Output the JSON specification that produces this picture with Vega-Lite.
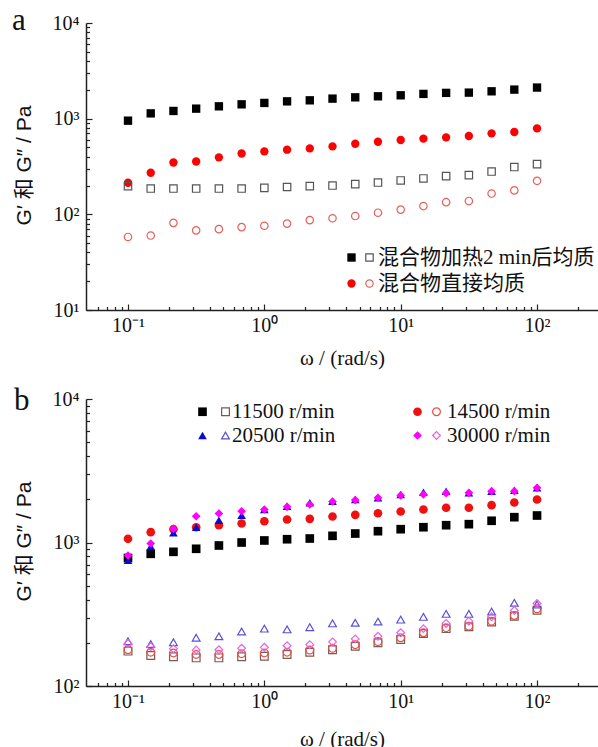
{
  "$schema": "https://vega.github.io/schema/vega-lite/v6.json",
  "padding": {"left": 12, "top": 5, "right": 0, "bottom": 0},
  "background": "white",
  "config": {
    "view": {"stroke": null},
    "axis": {"domainColor": "#222", "domainWidth": 1.5, "tickColor": "#222", "tickWidth": 1.2, "labelFont": "Liberation Serif", "labelFontSize": 20, "labelColor": "#111", "grid": false, "labelOverlap": false, "labelFlush": false, "labelBound": false, "titleColor": "#111", "titleFontWeight": "normal"},
    "legend": {"padding": 0, "title": null, "labelLimit": 400}
  },
  "spacing": 17,
  "resolve": {
    "scale": {"x": "independent", "y": "independent", "fill": "independent", "stroke": "independent", "shape": "independent"},
    "axis": {"x": "independent", "y": "independent"},
    "legend": {"fill": "independent", "stroke": "independent", "shape": "independent"}
  },
  "datasets": {
    "a": [
      {"s":"A","k":1,"w":0.1,"v":953},{"s":"A","k":1,"w":0.1468,"v":1136},{"s":"A","k":1,"w":0.2154,"v":1204},{"s":"A","k":1,"w":0.3162,"v":1273},{"s":"A","k":1,"w":0.4642,"v":1346},{"s":"A","k":1,"w":0.6813,"v":1412},{"s":"A","k":1,"w":1,"v":1460},{"s":"A","k":1,"w":1.468,"v":1517},{"s":"A","k":1,"w":2.154,"v":1555},{"s":"A","k":1,"w":3.162,"v":1620},{"s":"A","k":1,"w":4.642,"v":1671},{"s":"A","k":1,"w":6.813,"v":1713},{"s":"A","k":1,"w":10,"v":1755},{"s":"A","k":1,"w":14.68,"v":1815},{"s":"A","k":1,"w":21.54,"v":1860},{"s":"A","k":1,"w":31.62,"v":1872},{"s":"A","k":1,"w":46.42,"v":1932},{"s":"A","k":1,"w":68.13,"v":2013},{"s":"A","k":1,"w":100,"v":2114},
      {"s":"B","k":1,"w":0.1,"v":214},{"s":"B","k":1,"w":0.1468,"v":272},{"s":"B","k":1,"w":0.2154,"v":348},{"s":"B","k":1,"w":0.3162,"v":357},{"s":"B","k":1,"w":0.4642,"v":394},{"s":"B","k":1,"w":0.6813,"v":433},{"s":"B","k":1,"w":1,"v":455},{"s":"B","k":1,"w":1.468,"v":474},{"s":"B","k":1,"w":2.154,"v":489},{"s":"B","k":1,"w":3.162,"v":513},{"s":"B","k":1,"w":4.642,"v":547},{"s":"B","k":1,"w":6.813,"v":574},{"s":"B","k":1,"w":10,"v":598},{"s":"B","k":1,"w":14.68,"v":618},{"s":"B","k":1,"w":21.54,"v":637},{"s":"B","k":1,"w":31.62,"v":659},{"s":"B","k":1,"w":46.42,"v":702},{"s":"B","k":1,"w":68.13,"v":726},{"s":"B","k":1,"w":100,"v":791},
      {"s":"A","k":2,"w":0.1,"v":197},{"s":"A","k":2,"w":0.1468,"v":186},{"s":"A","k":2,"w":0.2154,"v":186},{"s":"A","k":2,"w":0.3162,"v":186},{"s":"A","k":2,"w":0.4642,"v":186},{"s":"A","k":2,"w":0.6813,"v":186},{"s":"A","k":2,"w":1,"v":189},{"s":"A","k":2,"w":1.468,"v":193},{"s":"A","k":2,"w":2.154,"v":197},{"s":"A","k":2,"w":3.162,"v":200},{"s":"A","k":2,"w":4.642,"v":207},{"s":"A","k":2,"w":6.813,"v":215},{"s":"A","k":2,"w":10,"v":226},{"s":"A","k":2,"w":14.68,"v":237},{"s":"A","k":2,"w":21.54,"v":251},{"s":"A","k":2,"w":31.62,"v":257},{"s":"A","k":2,"w":46.42,"v":280},{"s":"A","k":2,"w":68.13,"v":312},{"s":"A","k":2,"w":100,"v":335},
      {"s":"B","k":2,"w":0.1,"v":58},{"s":"B","k":2,"w":0.1468,"v":60},{"s":"B","k":2,"w":0.2154,"v":81.5},{"s":"B","k":2,"w":0.3162,"v":68},{"s":"B","k":2,"w":0.4642,"v":70},{"s":"B","k":2,"w":0.6813,"v":73.5},{"s":"B","k":2,"w":1,"v":76},{"s":"B","k":2,"w":1.468,"v":80},{"s":"B","k":2,"w":2.154,"v":87},{"s":"B","k":2,"w":3.162,"v":91},{"s":"B","k":2,"w":4.642,"v":96},{"s":"B","k":2,"w":6.813,"v":104},{"s":"B","k":2,"w":10,"v":112},{"s":"B","k":2,"w":14.68,"v":122},{"s":"B","k":2,"w":21.54,"v":134},{"s":"B","k":2,"w":31.62,"v":138},{"s":"B","k":2,"w":46.42,"v":165},{"s":"B","k":2,"w":68.13,"v":178},{"s":"B","k":2,"w":100,"v":224}
    ],
    "b": [
      {"s":"11500","k":1,"w":0.1,"v":780},{"s":"11500","k":1,"w":0.1468,"v":834},{"s":"11500","k":1,"w":0.2154,"v":861},{"s":"11500","k":1,"w":0.3162,"v":904},{"s":"11500","k":1,"w":0.4642,"v":953},{"s":"11500","k":1,"w":0.6813,"v":1000},{"s":"11500","k":1,"w":1,"v":1033},{"s":"11500","k":1,"w":1.468,"v":1054},{"s":"11500","k":1,"w":2.154,"v":1066},{"s":"11500","k":1,"w":3.162,"v":1113},{"s":"11500","k":1,"w":4.642,"v":1155},{"s":"11500","k":1,"w":6.813,"v":1199},{"s":"11500","k":1,"w":10,"v":1238},{"s":"11500","k":1,"w":14.68,"v":1278},{"s":"11500","k":1,"w":21.54,"v":1320},{"s":"11500","k":1,"w":31.62,"v":1342},{"s":"11500","k":1,"w":46.42,"v":1417},{"s":"11500","k":1,"w":68.13,"v":1501},{"s":"11500","k":1,"w":100,"v":1542},
      {"s":"14500","k":1,"w":0.1,"v":1061},{"s":"14500","k":1,"w":0.1468,"v":1180},{"s":"14500","k":1,"w":0.2154,"v":1238},{"s":"14500","k":1,"w":0.3162,"v":1278},{"s":"14500","k":1,"w":0.4642,"v":1320},{"s":"14500","k":1,"w":0.6813,"v":1356},{"s":"14500","k":1,"w":1,"v":1407},{"s":"14500","k":1,"w":1.468,"v":1446},{"s":"14500","k":1,"w":2.154,"v":1462},{"s":"14500","k":1,"w":3.162,"v":1517},{"s":"14500","k":1,"w":4.642,"v":1559},{"s":"14500","k":1,"w":6.813,"v":1600},{"s":"14500","k":1,"w":10,"v":1644},{"s":"14500","k":1,"w":14.68,"v":1698},{"s":"14500","k":1,"w":21.54,"v":1746},{"s":"14500","k":1,"w":31.62,"v":1746},{"s":"14500","k":1,"w":46.42,"v":1820},{"s":"14500","k":1,"w":68.13,"v":1900},{"s":"14500","k":1,"w":100,"v":1995},
      {"s":"20500","k":1,"w":0.1,"v":753},{"s":"20500","k":1,"w":0.1468,"v":938},{"s":"20500","k":1,"w":0.2154,"v":1168},{"s":"20500","k":1,"w":0.3162,"v":1278},{"s":"20500","k":1,"w":0.4642,"v":1430},{"s":"20500","k":1,"w":0.6813,"v":1550},{"s":"20500","k":1,"w":1,"v":1698},{"s":"20500","k":1,"w":1.468,"v":1791},{"s":"20500","k":1,"w":2.154,"v":1891},{"s":"20500","k":1,"w":3.162,"v":1941},{"s":"20500","k":1,"w":4.642,"v":1994},{"s":"20500","k":1,"w":6.813,"v":2049},{"s":"20500","k":1,"w":10,"v":2160},{"s":"20500","k":1,"w":14.68,"v":2241},{"s":"20500","k":1,"w":21.54,"v":2278},{"s":"20500","k":1,"w":31.62,"v":2218},{"s":"20500","k":1,"w":46.42,"v":2278},{"s":"20500","k":1,"w":68.13,"v":2312},{"s":"20500","k":1,"w":100,"v":2404},
      {"s":"30000","k":1,"w":0.1,"v":812},{"s":"30000","k":1,"w":0.1468,"v":984},{"s":"30000","k":1,"w":0.2154,"v":1246},{"s":"30000","k":1,"w":0.3162,"v":1524},{"s":"30000","k":1,"w":0.4642,"v":1592},{"s":"30000","k":1,"w":0.6813,"v":1652},{"s":"30000","k":1,"w":1,"v":1698},{"s":"30000","k":1,"w":1.468,"v":1773},{"s":"30000","k":1,"w":2.154,"v":1841},{"s":"30000","k":1,"w":3.162,"v":1931},{"s":"30000","k":1,"w":4.642,"v":1974},{"s":"30000","k":1,"w":6.813,"v":2049},{"s":"30000","k":1,"w":10,"v":2128},{"s":"30000","k":1,"w":14.68,"v":2160},{"s":"30000","k":1,"w":21.54,"v":2207},{"s":"30000","k":1,"w":31.62,"v":2218},{"s":"30000","k":1,"w":46.42,"v":2278},{"s":"30000","k":1,"w":68.13,"v":2278},{"s":"30000","k":1,"w":100,"v":2404},
      {"s":"11500","k":2,"w":0.1,"v":175},{"s":"11500","k":2,"w":0.1468,"v":163},{"s":"11500","k":2,"w":0.2154,"v":160},{"s":"11500","k":2,"w":0.3162,"v":157},{"s":"11500","k":2,"w":0.4642,"v":157},{"s":"11500","k":2,"w":0.6813,"v":160},{"s":"11500","k":2,"w":1,"v":161},{"s":"11500","k":2,"w":1.468,"v":166},{"s":"11500","k":2,"w":2.154,"v":172},{"s":"11500","k":2,"w":3.162,"v":179},{"s":"11500","k":2,"w":4.642,"v":189},{"s":"11500","k":2,"w":6.813,"v":200},{"s":"11500","k":2,"w":10,"v":211},{"s":"11500","k":2,"w":14.68,"v":232},{"s":"11500","k":2,"w":21.54,"v":251},{"s":"11500","k":2,"w":31.62,"v":259},{"s":"11500","k":2,"w":46.42,"v":279},{"s":"11500","k":2,"w":68.13,"v":306},{"s":"11500","k":2,"w":100,"v":337},
      {"s":"14500","k":2,"w":0.1,"v":179},{"s":"14500","k":2,"w":0.1468,"v":172},{"s":"14500","k":2,"w":0.2154,"v":170},{"s":"14500","k":2,"w":0.3162,"v":166},{"s":"14500","k":2,"w":0.4642,"v":166},{"s":"14500","k":2,"w":0.6813,"v":168},{"s":"14500","k":2,"w":1,"v":170},{"s":"14500","k":2,"w":1.468,"v":172},{"s":"14500","k":2,"w":2.154,"v":178},{"s":"14500","k":2,"w":3.162,"v":183},{"s":"14500","k":2,"w":4.642,"v":194},{"s":"14500","k":2,"w":6.813,"v":204},{"s":"14500","k":2,"w":10,"v":217},{"s":"14500","k":2,"w":14.68,"v":235},{"s":"14500","k":2,"w":21.54,"v":255},{"s":"14500","k":2,"w":31.62,"v":261},{"s":"14500","k":2,"w":46.42,"v":283},{"s":"14500","k":2,"w":68.13,"v":310},{"s":"14500","k":2,"w":100,"v":345},
      {"s":"20500","k":2,"w":0.1,"v":205},{"s":"20500","k":2,"w":0.1468,"v":196},{"s":"20500","k":2,"w":0.2154,"v":202},{"s":"20500","k":2,"w":0.3162,"v":217},{"s":"20500","k":2,"w":0.4642,"v":222},{"s":"20500","k":2,"w":0.6813,"v":240},{"s":"20500","k":2,"w":1,"v":251},{"s":"20500","k":2,"w":1.468,"v":248},{"s":"20500","k":2,"w":2.154,"v":257},{"s":"20500","k":2,"w":3.162,"v":273},{"s":"20500","k":2,"w":4.642,"v":276},{"s":"20500","k":2,"w":6.813,"v":281},{"s":"20500","k":2,"w":10,"v":290},{"s":"20500","k":2,"w":14.68,"v":303},{"s":"20500","k":2,"w":21.54,"v":318},{"s":"20500","k":2,"w":31.62,"v":318},{"s":"20500","k":2,"w":46.42,"v":330},{"s":"20500","k":2,"w":68.13,"v":380},{"s":"20500","k":2,"w":100,"v":370},
      {"s":"30000","k":2,"w":0.1,"v":198},{"s":"30000","k":2,"w":0.1468,"v":188},{"s":"30000","k":2,"w":0.2154,"v":182},{"s":"30000","k":2,"w":0.3162,"v":178},{"s":"30000","k":2,"w":0.4642,"v":179},{"s":"30000","k":2,"w":0.6813,"v":183},{"s":"30000","k":2,"w":1,"v":186},{"s":"30000","k":2,"w":1.468,"v":191},{"s":"30000","k":2,"w":2.154,"v":194},{"s":"30000","k":2,"w":3.162,"v":203},{"s":"30000","k":2,"w":4.642,"v":213},{"s":"30000","k":2,"w":6.813,"v":222},{"s":"30000","k":2,"w":10,"v":235},{"s":"30000","k":2,"w":14.68,"v":251},{"s":"30000","k":2,"w":21.54,"v":273},{"s":"30000","k":2,"w":31.62,"v":283},{"s":"30000","k":2,"w":46.42,"v":304},{"s":"30000","k":2,"w":68.13,"v":336},{"s":"30000","k":2,"w":100,"v":376}
    ]
  },
  "vconcat": [
    {
      "width": 512, "height": 287,
      "title": {"text": "a", "anchor": "start", "frame": "group", "font": "Liberation Serif", "fontSize": 31, "fontWeight": "normal", "baseline": "alphabetic", "offset": -48, "dx": -74, "color": "#111"},
      "data": {"name": "a"},
      "resolve": {"scale": {"shape": "independent"}, "legend": {"fill": "independent", "stroke": "independent", "shape": "independent"}},
      "encoding": {
        "x": {"field": "w", "type": "quantitative", "scale": {"type": "log", "domain": [0.0492, 280], "nice": false},
          "axis": {"values": [0.06,0.07,0.08,0.09,0.1,0.2,0.3,0.4,0.5,0.6,0.7,0.8,0.9,1,2,3,4,5,6,7,8,9,10,20,30,40,50,60,70,80,90,100,200],
            "labelExpr": "datum.value === 0.1 ? '10⁻¹' : datum.value === 1 ? '10⁰' : datum.value === 10 ? '10¹' : datum.value === 100 ? '10²' : ''",
            "tickSize": {"condition": {"test": "indexof([0.1,1,10,100], datum.value) >= 0", "value": -6}, "value": -3.5},
            "labelPadding": 11,
            "title": "ω / (rad/s)", "titleFont": "Liberation Serif", "titleFontSize": 21, "titleY": 48, "titleBaseline": "middle"}},
        "y": {"field": "v", "type": "quantitative", "scale": {"type": "log", "domain": [10, 10000], "nice": false},
          "axis": {"values": [10,20,30,40,50,60,70,80,90,100,200,300,400,500,600,700,800,900,1000,2000,3000,4000,5000,6000,7000,8000,9000,10000],
            "labelExpr": "datum.value === 10 ? '10¹' : datum.value === 100 ? '10²' : datum.value === 1000 ? '10³' : datum.value === 10000 ? '10⁴' : ''",
            "tickSize": {"condition": {"test": "indexof([10,100,1000,10000], datum.value) >= 0", "value": -6}, "value": -3.5},
            "labelPadding": 13,
            "title": "G′ 和 G″ / Pa", "titleFont": "Liberation Sans, Noto Sans CJK SC", "titleFontSize": 21, "titleX": -62, "titleY": 142, "titleBaseline": "middle"}}
      },
      "layer": [
        {
          "transform": [{"filter": "datum.k === 1"}],
          "mark": {"type": "point", "filled": true, "strokeWidth": 0, "opacity": 1, "size": 70},
          "encoding": {
            "shape": {"field": "s", "type": "nominal", "scale": {"domain": ["A", "B"], "range": ["square", "circle"]},
              "legend": {"orient": "none", "legendX": 255, "legendY": 224, "symbolSize": 70, "symbolStrokeWidth": 0, "labelOffset": 16, "rowPadding": 4, "labelFont": "Liberation Serif, Noto Sans CJK SC", "labelFontSize": 21, "labelColor": "#111", "labelExpr": "datum.value === 'A' ? '混合物加热2 min后均质' : '混合物直接均质'"}},
            "fill": {"field": "s", "type": "nominal", "scale": {"domain": ["A", "B"], "range": ["#000000", "#ff0000"]},
              "legend": {"orient": "none", "legendX": 255, "legendY": 224, "symbolSize": 70, "symbolStrokeWidth": 0, "labelOffset": 16, "rowPadding": 4, "labelFont": "Liberation Serif, Noto Sans CJK SC", "labelFontSize": 21, "labelColor": "#111", "labelExpr": "datum.value === 'A' ? '混合物加热2 min后均质' : '混合物直接均质'"}}
          }
        },
        {
          "transform": [{"filter": "datum.k === 2"}],
          "mark": {"type": "point", "filled": false, "strokeWidth": 1.2, "opacity": 1, "size": 55},
          "encoding": {
            "shape": {"field": "s", "type": "nominal", "scale": {"domain": ["A", "B"], "range": ["square", "circle"]},
              "legend": {"orient": "none", "legendX": 273, "legendY": 224, "symbolSize": 55, "symbolStrokeWidth": 1.2, "labelOffset": 16, "rowPadding": 4, "labelLimit": 60, "labelFont": "Liberation Serif, Noto Sans CJK SC", "labelFontSize": 21, "labelOpacity": 0, "labelExpr": "datum.value === 'A' ? '混合物加热2 min后均质' : '混合物直接均质'"}},
            "stroke": {"field": "s", "type": "nominal", "scale": {"domain": ["A", "B"], "range": ["#555555", "#e8605a"]},
              "legend": {"orient": "none", "legendX": 273, "legendY": 224, "symbolSize": 55, "symbolStrokeWidth": 1.2, "labelOffset": 16, "rowPadding": 4, "labelLimit": 60, "labelFont": "Liberation Serif, Noto Sans CJK SC", "labelFontSize": 21, "labelOpacity": 0, "labelExpr": "datum.value === 'A' ? '混合物加热2 min后均质' : '混合物直接均质'"}}
          }
        }
      ]
    },
    {
      "width": 512, "height": 287,
      "title": {"text": "b", "anchor": "start", "frame": "group", "font": "Liberation Serif", "fontSize": 31, "fontWeight": "normal", "baseline": "alphabetic", "offset": -52, "dx": -72, "color": "#111"},
      "data": {"name": "b"},
      "resolve": {"scale": {"shape": "independent"}, "legend": {"fill": "independent", "stroke": "independent", "shape": "independent"}},
      "encoding": {
        "x": {"field": "w", "type": "quantitative", "scale": {"type": "log", "domain": [0.0492, 280], "nice": false},
          "axis": {"values": [0.06,0.07,0.08,0.09,0.1,0.2,0.3,0.4,0.5,0.6,0.7,0.8,0.9,1,2,3,4,5,6,7,8,9,10,20,30,40,50,60,70,80,90,100,200],
            "labelExpr": "datum.value === 0.1 ? '10⁻¹' : datum.value === 1 ? '10⁰' : datum.value === 10 ? '10¹' : datum.value === 100 ? '10²' : ''",
            "tickSize": {"condition": {"test": "indexof([0.1,1,10,100], datum.value) >= 0", "value": -6}, "value": -3.5},
            "labelPadding": 11,
            "title": "ω / (rad/s)", "titleFont": "Liberation Serif", "titleFontSize": 21, "titleY": 53, "titleBaseline": "middle"}},
        "y": {"field": "v", "type": "quantitative", "scale": {"type": "log", "domain": [100, 10000], "nice": false},
          "axis": {"values": [100,200,300,400,500,600,700,800,900,1000,2000,3000,4000,5000,6000,7000,8000,9000,10000],
            "labelExpr": "datum.value === 100 ? '10²' : datum.value === 1000 ? '10³' : datum.value === 10000 ? '10⁴' : ''",
            "tickSize": {"condition": {"test": "indexof([100,1000,10000], datum.value) >= 0", "value": -6}, "value": -3.5},
            "labelPadding": 13,
            "title": "G′ 和 G″ / Pa", "titleFont": "Liberation Sans, Noto Sans CJK SC", "titleFontSize": 21, "titleX": -62, "titleY": 142, "titleBaseline": "middle"}}
      },
      "layer": [
        {
          "transform": [{"filter": "datum.k === 1"}],
          "mark": {"type": "point", "filled": true, "strokeWidth": 0, "opacity": 1, "size": 75},
          "encoding": {
            "shape": {"field": "s", "type": "nominal", "scale": {"domain": ["11500", "14500", "20500", "30000"], "range": ["square", "circle", "triangle-up", "diamond"]},
              "legend": {"orient": "none", "direction": "horizontal", "legendX": 106, "legendY": 2, "columns": 2, "columnPadding": 71, "symbolSize": 75, "symbolStrokeWidth": 0, "labelOffset": 19, "rowPadding": 2, "labelFont": "Liberation Serif", "labelFontSize": 21, "labelColor": "#111", "labelExpr": "datum.label + ' r/min'"}},
            "fill": {"field": "s", "type": "nominal", "scale": {"domain": ["11500", "14500", "20500", "30000"], "range": ["#000000", "#f01010", "#0a0ad0", "#ff00ff"]},
              "legend": {"orient": "none", "direction": "horizontal", "legendX": 106, "legendY": 2, "columns": 2, "columnPadding": 71, "symbolSize": 75, "symbolStrokeWidth": 0, "labelOffset": 19, "rowPadding": 2, "labelFont": "Liberation Serif", "labelFontSize": 21, "labelColor": "#111", "labelExpr": "datum.label + ' r/min'"}}
          }
        },
        {
          "transform": [{"filter": "datum.k === 2"}],
          "mark": {"type": "point", "filled": false, "strokeWidth": 1.2, "opacity": 1, "size": 60},
          "encoding": {
            "shape": {"field": "s", "type": "nominal", "scale": {"domain": ["11500", "14500", "20500", "30000"], "range": ["square", "circle", "triangle-up", "diamond"]},
              "legend": {"orient": "none", "direction": "horizontal", "legendX": 129, "legendY": 2, "columns": 2, "columnPadding": 67, "symbolSize": 60, "symbolStrokeWidth": 1.2, "labelOffset": 19, "rowPadding": 2, "labelFont": "Liberation Serif", "labelFontSize": 21, "labelOpacity": 0, "labelExpr": "datum.label + ' r/min'"}},
            "stroke": {"field": "s", "type": "nominal", "scale": {"domain": ["11500", "14500", "20500", "30000"], "range": ["#7a5a55", "#e85040", "#5a50d8", "#e860e8"]},
              "legend": {"orient": "none", "direction": "horizontal", "legendX": 129, "legendY": 2, "columns": 2, "columnPadding": 67, "symbolSize": 60, "symbolStrokeWidth": 1.2, "labelOffset": 19, "rowPadding": 2, "labelFont": "Liberation Serif", "labelFontSize": 21, "labelOpacity": 0, "labelExpr": "datum.label + ' r/min'"}}
          }
        }
      ]
    }
  ]
}
